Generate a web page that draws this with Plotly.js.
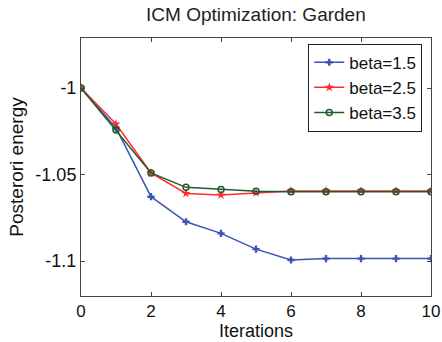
<!DOCTYPE html>
<html>
<head>
<meta charset="utf-8">
<script src="https://cdn.plot.ly/plotly-3.0.1.min.js"></script>
<style>html,body{margin:0;padding:0;background:#fff;}#chart{width:442px;height:342px;}</style>
</head>
<body>
<div id="chart"></div>
<script>
const iterations = [0, 1, 2, 3, 4, 5, 6, 7, 8, 9, 10];
const beta15 = [-1, -1.0231, -1.0628, -1.0773, -1.0840, -1.0931, -1.0994, -1.0986, -1.0986, -1.0986, -1.0986];
const beta25 = [-1, -1.0208, -1.0491, -1.0609, -1.0618, -1.0605, -1.0595, -1.0595, -1.0595, -1.0595, -1.0595];
const beta35 = [-1, -1.0243, -1.0491, -1.0574, -1.0586, -1.0597, -1.0600, -1.0600, -1.0600, -1.0600, -1.0600];
const seriesNames = ['beta=1.5', 'beta=2.5', 'beta=3.5'];
const xTickVals = [0, 2, 4, 6, 8, 10];
const xTickText = ['0', '2', '4', '6', '8', '10'];
const yTickVals = [-1, -1.05, -1.1];
const yTickText = ['-1', '-1.05', '-1.1'];

const font = 'Liberation Sans, Arial, sans-serif';
const traces = [
  {x: iterations, y: beta15, name: seriesNames[0], mode: 'lines+markers',
   line: {color: '#3a55b4', width: 1.5}, marker: {symbol: 'cross', size: 6, color: '#3a55b4'}},
  {x: iterations, y: beta25, name: seriesNames[1], mode: 'lines+markers',
   line: {color: '#ff2a2a', width: 1.5}, marker: {symbol: 'star', size: 7, color: '#ff2a2a'}},
  {x: iterations, y: beta35, name: seriesNames[2], mode: 'lines+markers',
   line: {color: '#1e5a32', width: 1.5}, marker: {symbol: 'circle-open', size: 6, color: '#1e5a32', line: {width: 1.5}}}
];
const layout = {
  width: 442, height: 342,
  margin: {l: 81, r: 11, t: 38, b: 46},
  paper_bgcolor: '#fff', plot_bgcolor: '#fff',
  font: {family: font, size: 18, color: '#111'},
  title: {text: 'ICM Optimization: Garden', font: {family: font, size: 19, color: '#222'}, x: 0.579, xanchor: 'center', y: 0.958, yanchor: 'middle'},
  showlegend: true,
  legend: {x: 0.975, xanchor: 'right', y: 0.978, yanchor: 'top', bgcolor: '#fff', bordercolor: '#222', borderwidth: 1,
           font: {family: font, size: 17, color: '#111'}, tracegroupgap: 0, itemwidth: 30},
  xaxis: {range: [0, 10], tickvals: xTickVals, ticktext: xTickText, ticks: 'inside', ticklen: 4, tickcolor: '#444',
          showline: true, linecolor: '#444', linewidth: 1, mirror: 'ticks', showgrid: false, zeroline: false,
          tickfont: {family: font, size: 17, color: '#111'},
          title: {text: 'Iterations', font: {family: font, size: 18, color: '#111'}, standoff: 1}},
  yaxis: {range: [-1.1202, -0.9711], tickvals: yTickVals, ticktext: yTickText, ticks: 'inside', ticklen: 4, tickcolor: '#444',
          showline: true, linecolor: '#444', linewidth: 1, mirror: 'ticks', showgrid: false, zeroline: false,
          tickfont: {family: font, size: 18, color: '#111'},
          title: {text: 'Posterori energy', font: {family: font, size: 19, color: '#111'}, standoff: 6}}
};
Plotly.newPlot('chart', traces, layout, {displayModeBar: false, staticPlot: true});
</script>
</body>
</html>
